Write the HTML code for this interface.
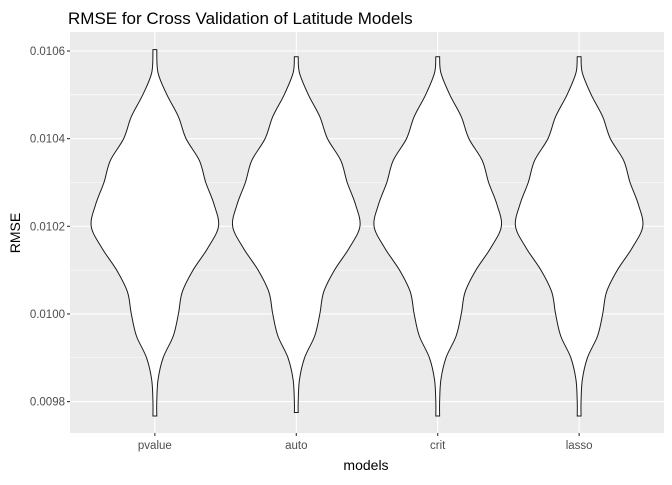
<!DOCTYPE html>
<html><head><meta charset="utf-8"><style>
body{margin:0;background:#fff;font-family:"Liberation Sans",sans-serif;}
</style></head><body>
<svg id="chart" width="672" height="480" xmlns="http://www.w3.org/2000/svg" font-family="Liberation Sans, sans-serif">
<text x="68" y="24" font-size="17" fill="#000">RMSE for Cross Validation of Latitude Models</text>
<rect x="70" y="32" width="594" height="401" fill="#ebebeb"/>
<g id="grid"></g>
<g id="violins"></g>
<g id="axes"></g>
<text x="366" y="470" font-size="14" text-anchor="middle">models</text>
<text transform="translate(20,233) rotate(-90)" font-size="14" text-anchor="middle">RMSE</text>
</svg>
<script>
const categories = ["pvalue","auto","crit","lasso"];
const yTicks = [0.0098,0.0100,0.0102,0.0104,0.0106];
const yTickLabels = ["0.0098","0.0100","0.0102","0.0104","0.0106"];
const densityY = [0.01060,0.01055,0.01050,0.01045,0.01040,0.01035,0.01030,0.01025,0.01020,0.01015,0.01010,0.01005,0.01000,0.00995,0.00990,0.00985,0.00980];
const widthPvalue = [0.03,0.05,0.19,0.37,0.49,0.70,0.80,0.93,1.00,0.83,0.60,0.43,0.37,0.29,0.13,0.05,0.03];
const widthAuto   = [0.03,0.05,0.19,0.37,0.49,0.70,0.80,0.93,1.00,0.83,0.60,0.43,0.37,0.29,0.13,0.05,0.03];
const widthCrit   = [0.03,0.05,0.19,0.37,0.49,0.70,0.80,0.93,1.00,0.83,0.60,0.43,0.37,0.29,0.13,0.05,0.03];
const widthLasso  = [0.03,0.05,0.19,0.37,0.49,0.70,0.80,0.93,1.00,0.83,0.60,0.43,0.37,0.29,0.13,0.05,0.03];
const maxValues = [0.010603,0.010587,0.010587,0.010587];
const minValues = [0.009767,0.009775,0.009767,0.009767];

const NS="http://www.w3.org/2000/svg";
const L=70,R=664,T=32,B=433;
const yMin=0.00975,yMax=0.010625;
function y(v){return 51+(0.0106-v)/0.0002*87.65;}
function x(i){return L+(R-L)*(i+0.6)/4.2;}
const maxHalf=(R-L)/4.2*0.45;
function mk(tag,attrs,parent){const e=document.createElementNS(NS,tag);for(const k in attrs)e.setAttribute(k,attrs[k]);parent.appendChild(e);return e;}
const grid=document.getElementById('grid'),axes=document.getElementById('axes'),vg=document.getElementById('violins');
// minor grid
for(let i=0;i<yTicks.length-1;i++){
  const v=(yTicks[i]+yTicks[i+1])/2;
  const ln=mk('line',{x1:L,x2:R,y1:y(v),y2:y(v),stroke:'#fff','stroke-width':0.55},grid);
  
  
}
for(let i=0;i<yTicks.length;i++){
  const v=yTicks[i];
  const ln=mk('line',{x1:L,x2:R,y1:y(v),y2:y(v),stroke:'#fff','stroke-width':1.1},grid);
  
  
  const tk=mk('line',{x1:L-3,x2:L,y1:y(v),y2:y(v),stroke:'#333','stroke-width':1.1},axes);
  
  
  const t=mk('text',{x:L-5,y:y(v)+4,'font-size':11.5,fill:'#4d4d4d','text-anchor':'end'},axes);
  t.textContent=yTickLabels[i];
  
  
}
categories.forEach((c,i)=>{
  const ln=mk('line',{x1:x(i),x2:x(i),y1:T,y2:B,stroke:'#fff','stroke-width':1.1},grid);
  
  
  const tk=mk('line',{x1:x(i),x2:x(i),y1:B,y2:B+3,stroke:'#333','stroke-width':1.1},axes);
  
  
  const t=mk('text',{x:x(i),y:B+16,'font-size':11.5,fill:'#4d4d4d','text-anchor':'middle'},axes);
  t.textContent=c;
  
  
});
const widths=[widthPvalue,widthAuto,widthCrit,widthLasso];
function smooth(pts){
  let d='M'+pts[0][0]+','+pts[0][1];
  for(let i=0;i<pts.length-1;i++){
    const p0=pts[Math.max(0,i-1)],p1=pts[i],p2=pts[i+1],p3=pts[Math.min(pts.length-1,i+2)];
    const c1=[p1[0]+(p2[0]-p0[0])/6,p1[1]+(p2[1]-p0[1])/6];
    const c2=[p2[0]-(p3[0]-p1[0])/6,p2[1]-(p3[1]-p1[1])/6];
    d+=' C'+c1[0]+','+c1[1]+' '+c2[0]+','+c2[1]+' '+p2[0]+','+p2[1];
  }
  return d;
}
categories.forEach((c,i)=>{
  const cx=x(i),w=widths[i];
  const pts=[];
  for(let k=0;k<densityY.length;k++){
    let v=densityY[k];
    if(v>maxValues[i])v=maxValues[i];
    if(v<minValues[i])v=minValues[i];
    pts.push([cx+w[k]*maxHalf,y(v)]);
  }
  pts[0][1]=y(maxValues[i]);
  pts.push([cx+w[w.length-1]*maxHalf,y(minValues[i])]);
  const right=smooth(pts);
  const leftPts=pts.slice().reverse().map(p=>[2*cx-p[0],p[1]]);
  const left=smooth(leftPts).replace(/^M/,' L');
  const p=mk('path',{d:right+left+' Z',fill:'#fff',stroke:'#1a1a1a','stroke-width':1},vg);
  
  
});
</script>
</body></html>
